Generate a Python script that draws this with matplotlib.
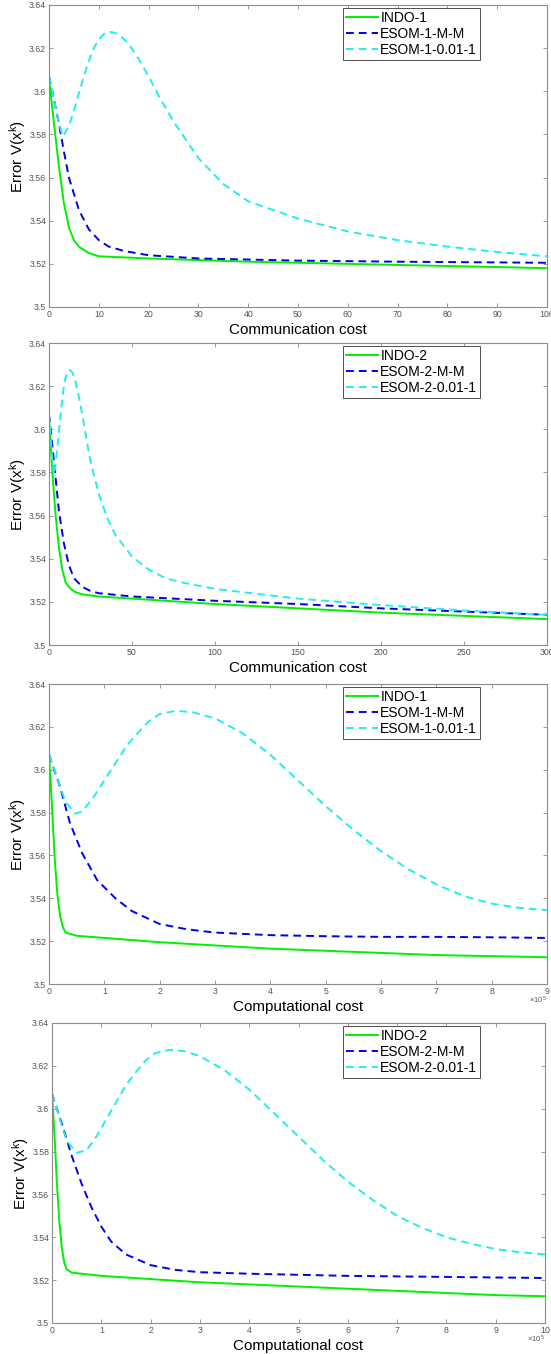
import matplotlib
matplotlib.use("Agg")
import matplotlib.pyplot as plt
from matplotlib.ticker import FuncFormatter

plt.rcParams['font.family'] = ['Liberation Sans', 'DejaVu Sans']
plt.rcParams['mathtext.fontset'] = 'custom'
plt.rcParams['mathtext.rm'] = 'Liberation Sans'
plt.rcParams['mathtext.it'] = 'Liberation Sans'

# ---------------- Panel 1: communication cost (0-100) ----------------
p1_indo_x = [0, 1, 2, 3, 4, 5, 6, 8, 10, 15, 20, 40, 60, 80, 100]
p1_indo_y = [3.606, 3.585, 3.565, 3.548, 3.537, 3.531, 3.528, 3.525, 3.5235, 3.523, 3.5225, 3.521, 3.520, 3.519, 3.518]
p1_mm_x = [0, 1, 2, 3, 4, 6, 8, 10, 12, 15, 20, 30, 50, 70, 100]
p1_mm_y = [3.607, 3.596, 3.585, 3.572, 3.560, 3.545, 3.536, 3.531, 3.528, 3.526, 3.524, 3.5225, 3.5215, 3.521, 3.5205]
p1_c_x = [0, 1, 2, 2.8, 4, 5, 6, 7, 8, 9, 10, 11, 12.5, 14, 16, 18, 20, 22, 25, 30, 35, 40, 50, 60, 70, 80, 90, 100]
p1_c_y = [3.607, 3.596, 3.585, 3.579, 3.584, 3.591, 3.599, 3.607, 3.614, 3.620, 3.624, 3.6265, 3.6275, 3.6265,
          3.622, 3.615, 3.607, 3.598, 3.586, 3.569, 3.557, 3.549, 3.541, 3.535, 3.531, 3.528, 3.5255, 3.5235]

# ---------------- Panel 2: communication cost (0-300) ----------------
p2_indo_x = [0, 2, 4, 6, 8, 10, 13, 16, 20, 30, 50, 100, 150, 200, 250, 300]
p2_indo_y = [3.606, 3.580, 3.560, 3.545, 3.535, 3.529, 3.526, 3.5245, 3.5235, 3.5225, 3.5215, 3.519, 3.517, 3.515, 3.5135, 3.512]
p2_mm_x = [0, 3, 6, 9, 12, 15, 20, 25, 30, 50, 100, 150, 200, 250, 300]
p2_mm_y = [3.607, 3.585, 3.562, 3.547, 3.537, 3.531, 3.527, 3.525, 3.524, 3.5225, 3.5205, 3.519, 3.517, 3.5155, 3.514]
p2_c_x = [0, 1, 2, 3, 4, 5, 6, 7, 8, 9, 10, 11, 12.5, 14, 16, 18, 20, 22, 25, 30, 35, 40, 50, 60, 70, 80, 100, 150, 200, 250, 300]
p2_c_y = [3.607, 3.596, 3.585, 3.579, 3.584, 3.591, 3.599, 3.607, 3.614, 3.620, 3.624, 3.6265, 3.6275, 3.6265,
          3.622, 3.615, 3.607, 3.598, 3.585, 3.570, 3.559, 3.551, 3.541, 3.535, 3.531, 3.529, 3.526, 3.5215, 3.5185, 3.516, 3.514]

# ---------------- Panel 3: computational cost (x1e5, 0-9) ----------------
p3_indo_x = [0, 0.05, 0.1, 0.15, 0.2, 0.25, 0.3, 0.5, 1, 2, 3, 4, 5, 6, 7, 8, 9]
p3_indo_y = [3.607, 3.585, 3.560, 3.542, 3.532, 3.5265, 3.524, 3.5225, 3.5215, 3.5195, 3.518, 3.5165, 3.5155, 3.5145, 3.5135, 3.513, 3.5125]
p3_mm_x = [0, 0.2, 0.38, 0.6, 0.87, 1.2, 1.5, 2, 2.5, 3, 4, 5, 6, 7, 8, 9]
p3_mm_y = [3.607, 3.592, 3.575, 3.561, 3.5485, 3.540, 3.534, 3.528, 3.5255, 3.524, 3.5228, 3.5223, 3.522, 3.522, 3.5218, 3.5215]
p3_c_x = [0, 0.1, 0.2, 0.3, 0.47, 0.6, 0.8, 1.0, 1.2, 1.4, 1.6, 1.8, 2.0, 2.3, 2.6, 3.0, 3.5, 4.0, 4.5, 5.0, 5.5, 6.0, 6.5, 7.0, 7.5, 8.0, 8.5, 9.0]
p3_c_y = [3.607, 3.600, 3.592, 3.585, 3.5795, 3.5805, 3.587, 3.595, 3.603, 3.611, 3.617, 3.6225, 3.626, 3.6275,
          3.6268, 3.624, 3.617, 3.607, 3.595, 3.583, 3.572, 3.562, 3.5535, 3.5465, 3.541, 3.5375, 3.5355, 3.5345]

# ---------------- Panel 4: computational cost (x1e5, 0-10) ----------------
p4_indo_x = [0, 0.05, 0.1, 0.15, 0.2, 0.25, 0.3, 0.4, 0.6, 1, 2, 3, 4, 5, 6, 7, 8, 9, 10]
p4_indo_y = [3.607, 3.588, 3.565, 3.547, 3.535, 3.528, 3.525, 3.5235, 3.523, 3.522, 3.5205, 3.519, 3.518, 3.517, 3.516, 3.515, 3.514, 3.513, 3.5125]
p4_mm_x = [0, 0.2, 0.4, 0.6, 0.8, 1.0, 1.2, 1.5, 2, 2.5, 3, 4, 5, 6, 8, 10]
p4_mm_y = [3.607, 3.593, 3.578, 3.565, 3.554, 3.545, 3.538, 3.532, 3.527, 3.5248, 3.5237, 3.523, 3.5225, 3.522, 3.5215, 3.521]
p4_c_x = [0, 0.1, 0.2, 0.3, 0.5, 0.7, 0.9, 1.1, 1.3, 1.5, 1.7, 1.9, 2.1, 2.4, 2.7, 3.0, 3.5, 4.0, 4.5, 5.0, 5.5, 6.0, 6.5, 7.0, 7.5, 8.0, 8.5, 9.0, 9.5, 10]
p4_c_y = [3.607, 3.600, 3.592, 3.585, 3.5795, 3.5805, 3.587, 3.595, 3.603, 3.611, 3.617, 3.6225, 3.626, 3.6275, 3.6268,
          3.6245, 3.618, 3.609, 3.598, 3.587, 3.576, 3.566, 3.5575, 3.550, 3.5445, 3.540, 3.537, 3.5345, 3.533, 3.532]

panels = [
    dict(series=[(p1_indo_x, p1_indo_y), (p1_mm_x, p1_mm_y), (p1_c_x, p1_c_y)],
         labels=['INDO-1', 'ESOM-1-M-M', 'ESOM-1-0.01-1'],
         xmax=100, xticks=list(range(0, 101, 10)), xlabel='Communication cost', exp=False,
         rect=[49/551, 1-307/1354, 498/551, 302/1354]),
    dict(series=[(p2_indo_x, p2_indo_y), (p2_mm_x, p2_mm_y), (p2_c_x, p2_c_y)],
         labels=['INDO-2', 'ESOM-2-M-M', 'ESOM-2-0.01-1'],
         xmax=300, xticks=list(range(0, 301, 50)), xlabel='Communication cost', exp=False,
         rect=[49/551, 1-645/1354, 498/551, 302/1354]),
    dict(series=[(p3_indo_x, p3_indo_y), (p3_mm_x, p3_mm_y), (p3_c_x, p3_c_y)],
         labels=['INDO-1', 'ESOM-1-M-M', 'ESOM-1-0.01-1'],
         xmax=9, xticks=list(range(0, 10)), xlabel='Computational cost', exp=True,
         rect=[49/551, 1-984/1354, 498/551, 300/1354]),
    dict(series=[(p4_indo_x, p4_indo_y), (p4_mm_x, p4_mm_y), (p4_c_x, p4_c_y)],
         labels=['INDO-2', 'ESOM-2-M-M', 'ESOM-2-0.01-1'],
         xmax=10, xticks=list(range(0, 11)), xlabel='Computational cost', exp=True,
         rect=[52/551, 1-1323/1354, 493/551, 300/1354]),
]

yticks = [3.5, 3.52, 3.54, 3.56, 3.58, 3.6, 3.62, 3.64]
colors = ['#00f000', '#0000ee', '#22eeee']
styles = ['-', '--', '--']
axcol = '#8c8c8c'

fig = plt.figure(figsize=(5.51, 13.54), dpi=100)
for p in panels:
    ax = fig.add_axes(p['rect'])
    for (xs, ys), c, ls, lab in zip(p['series'], colors, styles, p['labels']):
        ln, = ax.plot(xs, ys, color=c, linestyle=ls, lw=1.4, label=lab)
        if ls == '--':
            ln.set_dashes((4, 2.6))
    ax.set_xlim(0, p['xmax'])
    ax.set_ylim(3.5, 3.64)
    ax.set_xticks(p['xticks'])
    ax.set_yticks(yticks)
    ax.yaxis.set_major_formatter(FuncFormatter(lambda v, pos: '%g' % round(v, 4)))
    ax.xaxis.set_major_formatter(FuncFormatter(lambda v, pos: '%g' % v))
    ax.tick_params(direction='in', top=True, right=True, length=3, width=0.6,
                   colors=axcol, labelcolor='#555555', labelsize=6.3, pad=2)
    for s in ax.spines.values():
        s.set_color(axcol)
        s.set_linewidth(0.8)
    ax.set_xlabel(p['xlabel'], fontsize=11, labelpad=3)
    ax.set_ylabel(r'Error V(x$^{k}$)', fontsize=11, labelpad=1)
    if p['exp']:
        ax.text(1.0, -0.035, r'$\times$10$^5$', transform=ax.transAxes, fontsize=5.5,
                color='#555555', ha='right', va='top')
    leg = ax.legend(loc='upper left', bbox_to_anchor=(0.59, 0.99), borderaxespad=0,
                    fontsize=10, handlelength=2.3, handletextpad=0.2, labelspacing=0.15,
                    borderpad=0.2, fancybox=False, framealpha=1)
    leg.get_frame().set_edgecolor('#333333')
    leg.get_frame().set_linewidth(0.6)

fig.savefig('out.png', dpi=100)
